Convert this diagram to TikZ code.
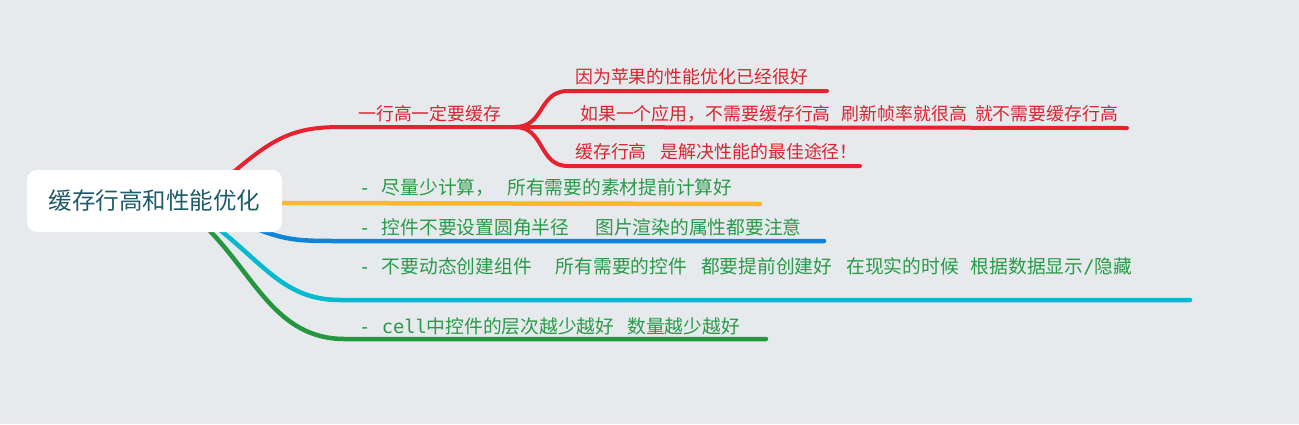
\documentclass[tikz,border=0pt]{standalone}
\usepackage{fontspec}
\setmainfont{Noto Sans CJK SC}
\newfontfamily\monofnt{DejaVu Sans Mono}
\definecolor{bg}{HTML}{E6EAED}
\definecolor{cred}{HTML}{E6222F}
\definecolor{tred}{HTML}{D92530}
\definecolor{corange}{HTML}{FBB733}
\definecolor{cblue}{HTML}{0C85D8}
\definecolor{ccyan}{HTML}{03BAD1}
\definecolor{cgreen}{HTML}{23963E}
\definecolor{tgreen}{HTML}{2A9A48}
\definecolor{tcentral}{HTML}{1E5C6B}
\newcommand\gap[1]{\hspace{#1pt}}
\tikzset{
  branch/.style={line width=4.5pt, line cap=round},
  redlabel/.style={anchor=west, inner sep=0pt, text=tred, font=\fontsize{17.9}{20}\selectfont},
  greenlabel/.style={anchor=west, inner sep=0pt, text=tgreen, font=\fontsize{18.75}{21}\selectfont},
  central/.style={fill=white, rounded corners=10pt, minimum width=255pt, minimum height=62pt, text=tcentral, font=\fontsize{23.5}{26}\selectfont, inner sep=0pt}
}
\begin{document}
\begin{tikzpicture}[x=1pt,y=-1pt]
\useasboundingbox[fill=bg] (0,0) rectangle (1299,424);
% coordinates
\coordinate (cR) at (222,182);
\coordinate (cO) at (270,203);
\coordinate (cB) at (250,226);
\coordinate (cC) at (215,226);
\coordinate (cG) at (205,226);
\coordinate (rJ) at (515,127);
\coordinate (rS) at (340,127);
\coordinate (r1a) at (568,91);
\coordinate (r1) at (827,91);
\coordinate (r2) at (1127,128);
\coordinate (r3a) at (568,166);
\coordinate (r3) at (860,166);
\coordinate (oE) at (760,204);
\coordinate (bS) at (340,241);
\coordinate (bE) at (824,241);
\coordinate (cS) at (340,300);
\coordinate (cE) at (1190,300);
\coordinate (gS) at (345,339);
\coordinate (gE) at (766,339);
% branches
\draw[branch, cred, line width=4pt] (cR) .. controls (270,140) and (290,127) .. (rS) -- (rJ);
\draw[branch, cred, line width=4pt] (rJ) .. controls (545,127) and (538,91) .. (r1a) -- (r1);
\draw[branch, cred, line width=4pt] (rJ) -- (r2);
\draw[branch, cred, line width=4pt] (rJ) .. controls (545,127) and (538,166) .. (r3a) -- (r3);
\draw[branch, corange] (cO) -- (oE);
\draw[branch, cblue] (cB) .. controls (285,241) and (300,241) .. (bS) -- (bE);
\draw[branch, ccyan] (cC) .. controls (265,265) and (285,300) .. (cS) -- (cE);
\draw[branch, cgreen] (cG) .. controls (255,275) and (275,339) .. (gS) -- (gE);
% central node
\node[central] (root) at (154.5,201) {缓存行高和性能优化};
% labels
\node[redlabel] (l1) at (358,114) {一行高一定要缓存};
\node[redlabel] (l1a) at (575,77) {因为苹果的性能优化已经很好};
\node[redlabel] (l1b) at (580,114) {如果一个应用，不需要缓存行高\gap{11}刷新帧率就很高\gap{8}就不需要缓存行高};
\node[redlabel] (l1c) at (575,152) {缓存行高\gap{14}是解决性能的最佳途径！};
\node[greenlabel] (l2) at (359,188) {{\monofnt - }尽量少计算，\gap{13}所有需要的素材提前计算好};
\node[greenlabel] (l3) at (359,227) {{\monofnt - }控件不要设置圆角半径\gap{26}图片渲染的属性都要注意};
\node[greenlabel] (l4) at (359,266) {{\monofnt - }不要动态创建组件\gap{24}所有需要的控件\gap{14}都要提前创建好\gap{14}在现实的时候\gap{12}根据数据显示{\monofnt /}隐藏};
\node[greenlabel] (l5) at (359,326) {{\monofnt - cell}中控件的层次越少越好\gap{13}数量越少越好};
\end{tikzpicture}
\end{document}
